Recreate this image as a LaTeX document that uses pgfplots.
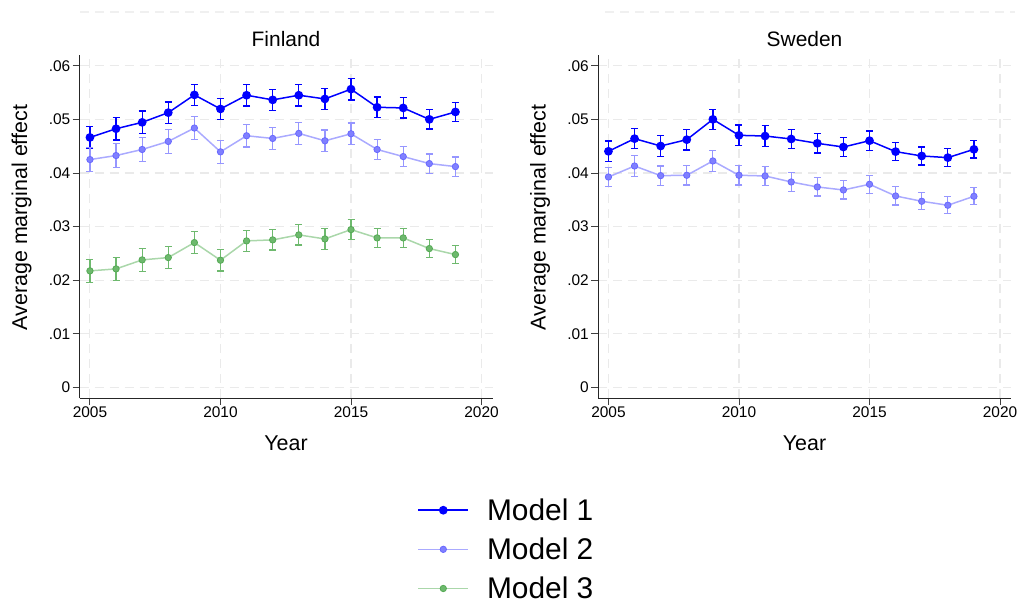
\documentclass[border=0pt]{standalone}
\usepackage{fontspec}
\setmainfont{Liberation Sans}
\usepackage{pgfplots}
\pgfplotsset{compat=1.18}
\usepackage{pgfplotstable}

\definecolor{mOne}{RGB}{0,0,255}
\definecolor{mTwoLine}{RGB}{170,170,255}
\definecolor{mTwoErr}{RGB}{150,150,255}
\definecolor{mTwoMark}{RGB}{128,128,255}
\definecolor{mTwoDraw}{RGB}{105,105,255}
\definecolor{mThreeLine}{RGB}{170,215,170}
\definecolor{mThreeErr}{RGB}{110,185,110}
\definecolor{mThreeMark}{RGB}{110,185,110}
\definecolor{mThreeDraw}{RGB}{85,170,85}
\definecolor{gridc}{RGB}{234,234,234}

\pgfplotstableread{
x y e
2005 0.04663 0.0021
2006 0.04825 0.0021
2007 0.04944 0.0021
2008 0.05125 0.0020
2009 0.05456 0.0020
2010 0.05194 0.0020
2011 0.05450 0.0020
2012 0.05363 0.0020
2013 0.05450 0.0020
2014 0.05381 0.0020
2015 0.05563 0.0020
2016 0.05225 0.0019
2017 0.05213 0.0019
2018 0.05000 0.0018
2019 0.05138 0.0018
}\finA
\pgfplotstableread{
x y e
2005 0.04250 0.0022
2006 0.04325 0.0022
2007 0.04438 0.0022
2008 0.04588 0.0022
2009 0.04838 0.0021
2010 0.04394 0.0021
2011 0.04694 0.0021
2012 0.04644 0.0021
2013 0.04738 0.0021
2014 0.04600 0.0020
2015 0.04731 0.0020
2016 0.04438 0.0019
2017 0.04306 0.0019
2018 0.04175 0.0018
2019 0.04119 0.0018
}\finB
\pgfplotstableread{
x y e
2005 0.02174 0.0021
2006 0.02211 0.0021
2007 0.02379 0.0021
2008 0.02422 0.0020
2009 0.02702 0.0020
2010 0.02373 0.0020
2011 0.02733 0.0020
2012 0.02752 0.0019
2013 0.02845 0.0019
2014 0.02770 0.0019
2015 0.02944 0.0019
2016 0.02789 0.0018
2017 0.02789 0.0018
2018 0.02590 0.0017
2019 0.02478 0.0017
}\finC
\pgfplotstableread{
x y e
2005 0.04404 0.0019
2006 0.04640 0.0019
2007 0.04503 0.0019
2008 0.04621 0.0019
2009 0.05000 0.0019
2010 0.04702 0.0019
2011 0.04689 0.0019
2012 0.04634 0.0018
2013 0.04553 0.0018
2014 0.04484 0.0018
2015 0.04602 0.0018
2016 0.04398 0.0017
2017 0.04317 0.0017
2018 0.04286 0.0017
2019 0.04441 0.0016
}\sweA
\pgfplotstableread{
x y e
2005 0.03925 0.0018
2006 0.04130 0.0019
2007 0.03950 0.0018
2008 0.03957 0.0018
2009 0.04224 0.0019
2010 0.03957 0.0018
2011 0.03944 0.0018
2012 0.03832 0.0018
2013 0.03739 0.0017
2014 0.03683 0.0017
2015 0.03789 0.0017
2016 0.03571 0.0017
2017 0.03472 0.0016
2018 0.03398 0.0016
2019 0.03565 0.0016
}\sweB

\pgfplotsset{
  panel/.style={
    scale only axis, width=413bp, height=343bp,
    xmin=2004.6, xmax=2020.42, ymin=-0.00197, ymax=0.062,
    scaled y ticks=false, scaled x ticks=false,
    axis lines*=left,
    axis line style={black!85, line width=0.9bp},
    xtick={2005,2010,2015,2020},
    xticklabels={2005,2010,2015,2020},
    ytick={0,0.01,0.02,0.03,0.04,0.05,0.06},
    yticklabels={0,.01,.02,.03,.04,.05,.06},
    tick align=outside, major tick length=7bp,
    tick style={black!75, line width=0.9bp},
    ticklabel style={font=\fontsize{15.5}{18}\selectfont, inner sep=2bp},
    grid=major,
    major grid style={gridc, line width=1.1bp, dash pattern=on 9bp off 6bp},
    every axis y label/.style={at={(axis description cs:-0.14,0.526)}, rotate=90, anchor=center, font=\fontsize{21.5}{26}\selectfont},
    every axis x label/.style={at={(axis description cs:0.5,-0.152)}, anchor=base, font=\fontsize{21.5}{26}\selectfont},
    xlabel={Year}, ylabel={Average marginal effect},
    every axis title/.style={font=\fontsize{21}{25}\selectfont, at={(axis description cs:0.5,1.024)}, anchor=base},
    clip=false,
  },
  m1/.style={color=mOne, draw=mOne, line width=1.5bp, mark=*, mark size=3.6bp,
    mark options={fill=mOne, draw=mOne},
    error bars/.cd, y dir=both, y explicit, error mark=-,
    error mark options={rotate=90, mOne, mark size=3.5bp, line width=1.3bp},
    error bar style={mOne, line width=1.3bp}, /pgfplots/.cd},
  m2/.style={color=mTwoLine, draw=mTwoLine, line width=1.5bp, mark=*, mark size=3.2bp,
    mark options={fill=mTwoMark, draw=mTwoDraw, line width=0.8bp},
    error bars/.cd, y dir=both, y explicit, error mark=-,
    error mark options={rotate=90, mTwoErr, mark size=3.5bp, line width=1.2bp},
    error bar style={mTwoErr, line width=1.2bp}, /pgfplots/.cd},
  m3/.style={color=mThreeLine, draw=mThreeLine, line width=1.5bp, mark=*, mark size=3.2bp,
    mark options={fill=mThreeMark, draw=mThreeDraw, line width=0.8bp},
    error bars/.cd, y dir=both, y explicit, error mark=-,
    error mark options={rotate=90, mThreeErr, mark size=3.5bp, line width=1.2bp},
    error bar style={mThreeErr, line width=1.2bp}, /pgfplots/.cd},
}

\begin{document}
\begin{tikzpicture}
\useasboundingbox (0,0) rectangle (1019bp,-604bp);
\draw[gridc!70, line width=1.1bp, dash pattern=on 9bp off 6bp] (80bp,-12bp) -- (497bp,-12bp);
\draw[gridc!70, line width=1.1bp, dash pattern=on 9bp off 6bp] (605bp,-12bp) -- (1015bp,-12bp);

\begin{axis}[panel, at={(79.5bp,-398bp)}, anchor=south west, title={Finland},
  legend style={at={(axis description cs:0.818,-0.287)}, anchor=north west,
    draw=none, fill=none, inner sep=0pt, row sep=12bp,
    font=\fontsize{30}{35}\selectfont, cells={anchor=west},
    /tikz/every odd column/.append style={column sep=16bp}},
  legend image code/.code={\draw[#1, mark repeat=2, mark phase=2] plot coordinates {(0bp,0bp) (25bp,0bp) (50bp,0bp)};},
]
\addplot[m1] table[x=x, y=y, y error=e] {\finA};
\addplot[m2] table[x=x, y=y, y error=e] {\finB};
\addplot[m3] table[x=x, y=y, y error=e] {\finC};
\legend{Model 1, Model 2, Model 3}
\end{axis}

\begin{axis}[panel, at={(598bp,-398bp)}, anchor=south west, title={Sweden}]
\addplot[m2] table[x=x, y=y, y error=e] {\sweB};
\addplot[m1] table[x=x, y=y, y error=e] {\sweA};
\end{axis}
\end{tikzpicture}
\end{document}
